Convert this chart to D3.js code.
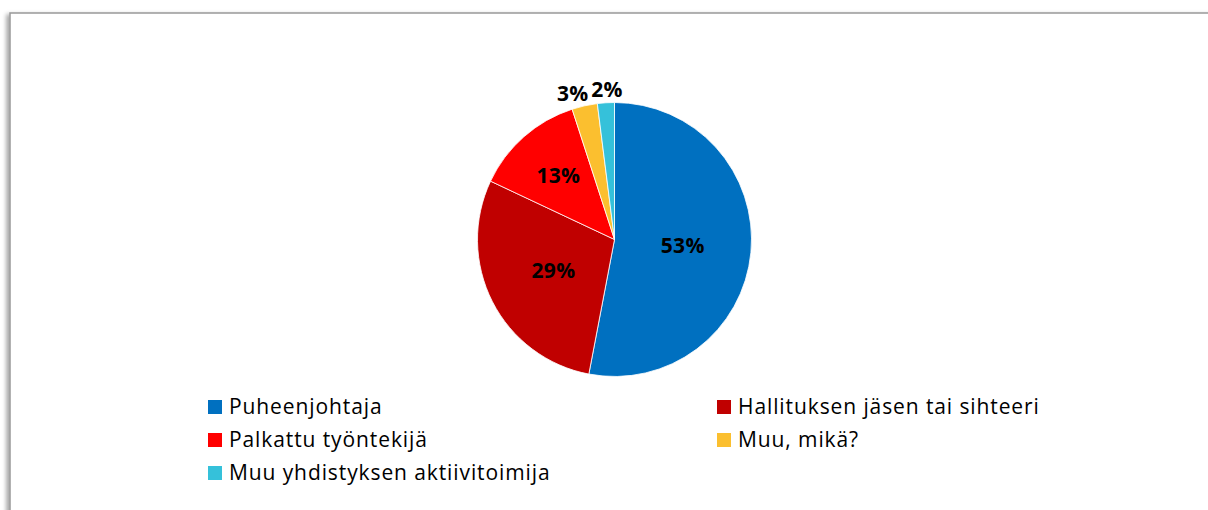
<!DOCTYPE html>
<meta charset="utf-8">
<style>
body { margin: 0; background: #fff; font-family: 'Open Sans', sans-serif; }
.pct { font-size: 21px; font-weight: bold; fill: #000; letter-spacing: 0.3px; }
.legend { font-size: 21px; fill: #000; letter-spacing: 0.9px; }
</style>
<body>
<div id="chart"></div>
<script src="https://cdn.jsdelivr.net/npm/d3@7"></script>
<script>
// data
var categories = ['Puheenjohtaja', 'Hallituksen jäsen tai sihteeri', 'Palkattu työntekijä', 'Muu, mikä?', 'Muu yhdistyksen aktiivitoimija'];
var values = [53, 29, 13, 3, 2];
var colors = ['#0070C0', '#C00000', '#FF0000', '#FBBF2F', '#35C1DA'];

var width = 1208, height = 510;
var cx = 614.5, cy = 239.5, r = 137;

var svg = d3.select('#chart').append('svg')
    .attr('width', width)
    .attr('height', height);

// frame with soft shadow on the left
var defs = svg.append('defs');
var f = defs.append('filter').attr('id', 'shadow').attr('x', '-5%').attr('y', '-5%').attr('width', '110%').attr('height', '110%');
f.append('feDropShadow').attr('dx', -3).attr('dy', 2).attr('stdDeviation', 2).attr('flood-color', '#000').attr('flood-opacity', 0.35);

svg.append('rect')
    .attr('x', 10).attr('y', 13)
    .attr('width', 1230).attr('height', 520)
    .attr('fill', '#fff')
    .attr('stroke', '#999')
    .attr('stroke-width', 1.5)
    .attr('filter', 'url(#shadow)');

var data = categories.map(function(c, i) { return { name: c, value: values[i], color: colors[i] }; });

var pie = d3.pie().sort(null).value(function(d) { return d.value; });
var arc = d3.arc().innerRadius(0).outerRadius(r);
var arcs = pie(data);

var g = svg.append('g').attr('transform', 'translate(' + cx + ',' + cy + ')');

g.selectAll('path.slice')
    .data(arcs)
  .enter().append('path')
    .attr('class', 'slice')
    .attr('d', arc)
    .attr('fill', function(d) { return d.data.color; })
    .attr('stroke', '#fff')
    .attr('stroke-width', 0.8);

// label radii: inside for big slices, outside for the small ones
var labelR = [0.5, 0.5, 0.62, 1.1, 1.1];
var labelShift = [[0, 0], [0, 0], [0, 0], [-9, 1], [2, 1]];

g.selectAll('text.pct')
    .data(arcs)
  .enter().append('text')
    .attr('class', 'pct')
    .attr('text-anchor', 'middle')
    .attr('dy', '0.35em')
    .attr('x', function(d, i) {
      var a = (d.startAngle + d.endAngle) / 2;
      return Math.sin(a) * r * labelR[i] + labelShift[i][0];
    })
    .attr('y', function(d, i) {
      var a = (d.startAngle + d.endAngle) / 2;
      return -Math.cos(a) * r * labelR[i] + labelShift[i][1];
    })
    .text(function(d) { return d.data.value + '%'; });

// legend
var legX = [208, 717], legY = [407, 440, 473];
var leg = svg.selectAll('g.leg')
    .data(data)
  .enter().append('g')
    .attr('class', 'leg')
    .attr('transform', function(d, i) {
      return 'translate(' + legX[i % 2] + ',' + legY[Math.floor(i / 2)] + ')';
    });

leg.append('rect')
    .attr('x', 0).attr('y', -7)
    .attr('width', 14).attr('height', 14)
    .attr('fill', function(d) { return d.color; });

leg.append('text')
    .attr('class', 'legend')
    .attr('x', 21)
    .attr('dy', '0.35em')
    .text(function(d) { return d.name; });
</script>
</body>
